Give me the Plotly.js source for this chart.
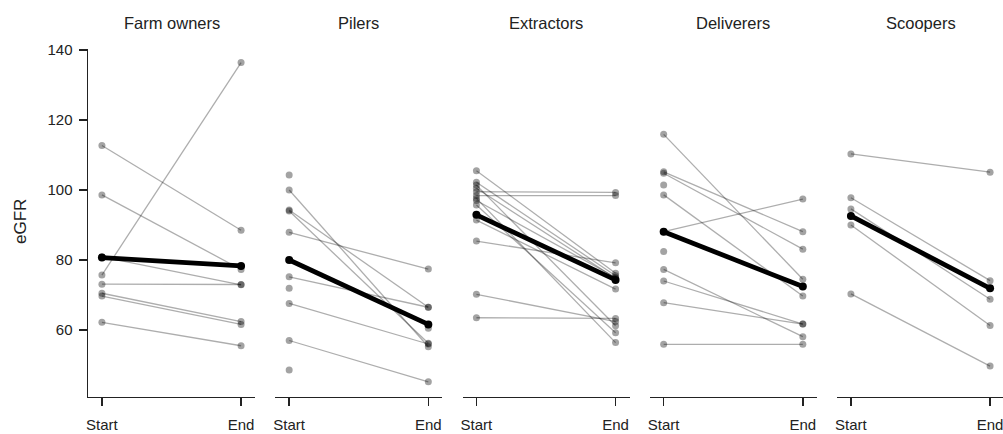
<!DOCTYPE html>
<html>
<head>
<meta charset="utf-8">
<script src="https://cdn.plot.ly/plotly-3.0.1.min.js"></script>
<style>html,body{margin:0;padding:0;background:#fff}#chart{width:1003px;height:434px}</style>
</head>
<body>
<div id="chart"></div>
<script>
const groups = ['Farm owners', 'Pilers', 'Extractors', 'Deliverers', 'Scoopers'];
const timeLabels = ['Start', 'End'];
const yTicks = [60, 80, 100, 120, 140];

const farmStart = [112.7, 98.6, 80.9, 75.7, 73.1, 70.5, 69.7, 62.2];
const farmEnd   = [88.5, 77.3, 72.9, 136.4, 73.0, 62.4, 61.6, 55.5];

const pilersStart = [100.0, 94.3, 94.0, 87.9, 75.2, 67.6, 57.0, 104.3, 71.9, 48.6, null];
const pilersEnd   = [55.2, 66.5, 56.2, 77.4, 66.5, 56.0, 45.2, null, null, null, 60.5];

const extractorsStart = [105.5, 102.2, 101.4, 100.5, 99.5, 98.4, 97.6, 97.0, 95.7, 91.4, 85.4, 70.2, 63.5];
const extractorsEnd   = [76.2, 75.5, 61.2, 74.8, 99.3, 98.4, 56.4, 75.0, 59.2, 71.7, 79.2, 62.4, 63.3];

const deliverersStart = [115.9, 105.2, 104.8, 98.6, 88.1, 77.3, 74.0, 67.8, 55.9, 101.4, 82.4];
const deliverersEnd   = [74.5, 88.1, 83.1, 69.7, 97.4, 58.1, 61.7, 61.7, 55.9, null, null];

const scoopersStart = [110.3, 97.8, 94.6, 90.0, 70.3];
const scoopersEnd   = [105.1, 74.1, 68.8, 61.3, 49.7];

const meanStart = [80.7, 80.0, 92.9, 88.1, 92.6];
const meanEnd   = [78.3, 61.6, 74.3, 72.4, 71.9];

const starts = [farmStart, pilersStart, extractorsStart, deliverersStart, scoopersStart];
const ends = [farmEnd, pilersEnd, extractorsEnd, deliverersEnd, scoopersEnd];

const W = 1003, H = 434;
const panelLeft = 88, pitch = 187.25, panelW = 167;
const yTopPx = 49.3, yBotPx = 396.5;

const traces = [];
const layout = {
  width: W, height: H,
  margin: {l: 0, r: 0, t: 0, b: 0},
  paper_bgcolor: '#fff', plot_bgcolor: 'rgba(0,0,0,0)',
  showlegend: false,
  font: {family: 'Liberation Sans, Arial, sans-serif', size: 15, color: '#222'},
  annotations: []
};

groups.forEach((g, i) => {
  const k = i === 0 ? '' : String(i + 1);
  const xa = 'x' + k, ya = 'y' + k;
  const left = panelLeft + i * pitch;
  const right = Math.min(left + panelW, W);
  const xmax = 0.9 + 1.2 * (right - left) / panelW;
  layout['xaxis' + k] = {
    domain: [left / W, right / W],
    range: [0.9, xmax],
    tickmode: 'array', tickvals: [1, 2], ticktext: timeLabels,
    ticks: 'outside', ticklen: 8, tickwidth: 1.5, tickcolor: '#222',
    showline: true, linecolor: '#222', linewidth: 1.5,
    showgrid: false, zeroline: false, fixedrange: true,
    ticklabelstandoff: 6, ticklabeloverflow: 'allow',
    tickfont: {size: 15, color: '#222'},
    anchor: ya, automargin: false
  };
  layout['yaxis' + k] = {
    domain: [1 - yBotPx / H, 1 - yTopPx / H],
    range: [41, 140.2],
    tickmode: 'array', tickvals: yTicks,
    ticks: i === 0 ? 'outside' : '', ticklen: 8, tickwidth: 1.5, tickcolor: '#222',
    showticklabels: i === 0,
    showline: i === 0, linecolor: '#222', linewidth: 1.5,
    showgrid: false, zeroline: false, fixedrange: true,
    ticklabelstandoff: 3,
    tickfont: {size: 15, color: '#222'},
    anchor: xa, automargin: false
  };
  layout.annotations.push({
    text: g, xref: 'paper', yref: 'paper',
    x: (left + panelW / 2) / W, y: 1 - 23 / H,
    xanchor: 'center', yanchor: 'middle', showarrow: false,
    font: {size: 16.5, color: '#222'}
  });
  const s = starts[i], e = ends[i];
  for (let j = 0; j < s.length; j++) {
    traces.push({
      type: 'scatter', mode: 'lines+markers', xaxis: xa, yaxis: ya,
      x: [1, 2], y: [s[j], e[j]],
      line: {color: 'rgba(0,0,0,0.32)', width: 1.3},
      marker: {color: 'rgba(0,0,0,0.36)', size: 7},
      hoverinfo: 'skip', cliponaxis: false
    });
  }
  traces.push({
    type: 'scatter', mode: 'lines+markers', xaxis: xa, yaxis: ya,
    x: [1, 2], y: [meanStart[i], meanEnd[i]],
    line: {color: '#000', width: 4.8},
    marker: {color: '#000', size: 8},
    hoverinfo: 'skip', cliponaxis: false
  });
});

layout.annotations.push({
  text: 'eGFR', xref: 'paper', yref: 'paper',
  x: 20 / W, y: 1 - 222 / H, textangle: -90,
  xanchor: 'center', yanchor: 'middle', showarrow: false,
  font: {size: 17, color: '#222'}
});

Plotly.newPlot('chart', traces, layout, {staticPlot: true, displayModeBar: false});
</script>
</body>
</html>
